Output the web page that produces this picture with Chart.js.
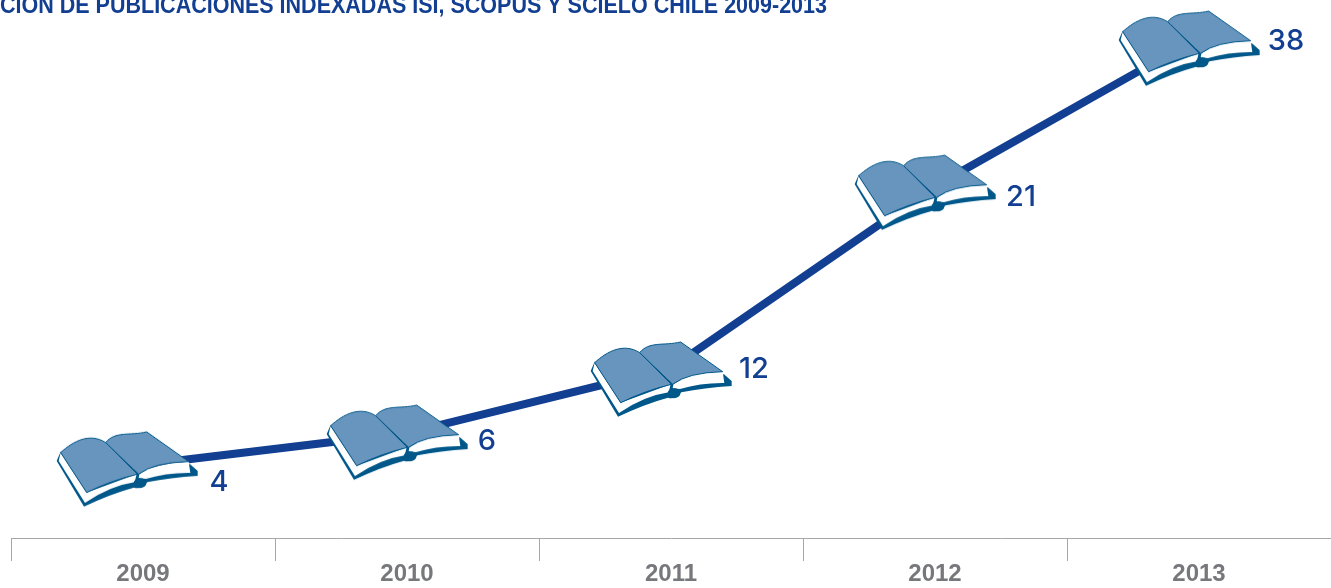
<!DOCTYPE html>
<html>
<head>
<meta charset="utf-8">
<title>Publicaciones indexadas</title>
<script src="https://cdn.jsdelivr.net/npm/chart.js@4/dist/chart.umd.js"></script>
<style>
  html, body { margin: 0; padding: 0; background: #fff; overflow: hidden; }
  canvas { display: block; }
</style>
</head>
<body>
<canvas id="lineChart" width="1331" height="588"></canvas>
<script>
const years = ['2009', '2010', '2011', '2012', '2013'];
const publications = [4, 6, 12, 21, 38];
const chartTitle = 'CIÓN DE PUBLICACIONES INDEXADAS ISI, SCOPUS Y SCIELO CHILE 2009-2013';

// the original axis is not to scale, so y is piecewise: value -> share of plot height
const yStopValues = [0, 4, 6, 12, 21, 38, 42];
const yStopShares = [0, 0.136, 0.195, 0.316, 0.654, 0.931, 1];

// label offset from its point
const labelDx = [76, 80, 83, 86, 87];
const labelDy = [17, 8, 1, 11, 4];
// book offset from its point
const bookDx = [-16, -10, -10, -10, -10];
const bookDy = [4, 9, 11, 6, 11];

class StopScale extends Chart.LinearScale {
  getPixelForValue(value) {
    let i = 1;
    while (i < yStopValues.length - 1 && value > yStopValues[i]) i++;
    const t = (value - yStopValues[i - 1]) / (yStopValues[i] - yStopValues[i - 1]);
    const share = yStopShares[i - 1] + t * (yStopShares[i] - yStopShares[i - 1]);
    return this.bottom - share * (this.bottom - this.top);
  }
}
StopScale.id = 'stops';
StopScale.defaults = {};
Chart.register(StopScale);

// open book used as the point marker
function makeBook(dx, dy) {
  const c = document.createElement('canvas');
  c.width = 200;
  c.height = 120;
  const g = c.getContext('2d');
  g.translate(100 + dx, 60 + dy);
  g.scale(1 / 3, 1 / 3);
  g.translate(-261, -144);

  // shadow under the book
  g.fillStyle = '#00578a';
  g.beginPath();
  g.moveTo(50, 120);
  g.lineTo(132, 257);
  g.quadraticCurveTo(215, 218, 282, 200);
  g.quadraticCurveTo(302, 208, 322, 184);
  g.quadraticCurveTo(390, 170, 473, 165);
  g.lineTo(473, 150);
  g.lineTo(450, 130);
  g.lineTo(300, 150);
  g.lineTo(62, 92);
  g.closePath();
  g.fill();

  // page edges
  g.fillStyle = '#ffffff';
  g.beginPath();
  g.moveTo(56, 120);
  g.lineTo(62, 95);
  g.lineTo(140, 215);
  g.lineTo(290, 160);
  g.lineTo(284, 184);
  g.quadraticCurveTo(210, 195, 135, 246);
  g.closePath();
  g.fill();
  g.beginPath();
  g.moveTo(298, 160);
  g.quadraticCurveTo(340, 128, 446, 122);
  g.lineTo(451, 156);
  g.quadraticCurveTo(380, 155, 318, 174);
  g.lineTo(296, 172);
  g.closePath();
  g.fill();

  // covers
  g.fillStyle = '#6795bd';
  g.strokeStyle = '#00578a';
  g.lineWidth = 3;
  g.beginPath();
  g.moveTo(62, 95);
  g.bezierCurveTo(100, 60, 150, 35, 197, 65);
  g.lineTo(292, 160);
  g.quadraticCurveTo(210, 180, 140, 215);
  g.closePath();
  g.fill();
  g.stroke();
  g.beginPath();
  g.moveTo(197, 65);
  g.bezierCurveTo(225, 30, 270, 45, 320, 33);
  g.lineTo(446, 122);
  g.quadraticCurveTo(340, 125, 296, 160);
  g.closePath();
  g.fill();
  g.stroke();

  // spine
  g.fillStyle = '#00578a';
  g.beginPath();
  g.ellipse(300, 187, 19, 15, 0, 0, Math.PI * 2);
  g.fill();
  return c;
}

const books = years.map((y, i) => makeBook(bookDx[i], bookDy[i]));

const textPlugin = {
  id: 'chartText',
  afterDatasetsDraw(chart) {
    const ctx = chart.ctx;
    const points = chart.getDatasetMeta(0).data;
    ctx.save();
    ctx.fillStyle = '#123f91';
    ctx.font = '500 29px Inter';
    ctx.textAlign = 'center';
    ctx.textBaseline = 'middle';
    publications.forEach((v, i) => {
      ctx.fillText(String(v), points[i].x + labelDx[i], points[i].y + labelDy[i]);
    });
    ctx.textAlign = 'left';
    ctx.textBaseline = 'alphabetic';
    ctx.font = 'bold 24px "Liberation Sans"';
    ctx.fillText(chartTitle, 0, 13, 827);
    ctx.restore();
  }
};

new Chart(document.getElementById('lineChart'), {
  type: 'line',
  plugins: [textPlugin],
  data: {
    labels: years,
    datasets: [{
      data: publications,
      borderColor: '#123f91',
      borderWidth: 8,
      tension: 0,
      pointStyle: books,
      clip: false
    }]
  },
  options: {
    responsive: false,
    animation: false,
    devicePixelRatio: 1,
    layout: { autoPadding: false, padding: { left: 11 } },
    plugins: { legend: { display: false }, tooltip: { enabled: false } },
    scales: {
      x: {
        offset: true,
        border: { color: '#a7a7a7', width: 1 },
        grid: { offset: true, drawOnChartArea: false, color: '#a7a7a7', tickLength: 23 },
        ticks: {
          padding: 0,
          color: '#77787b',
          maxRotation: 0,
          font: { family: '"Liberation Sans"', size: 24, weight: 'bold', lineHeight: 1.125 }
        }
      },
      y: { type: 'stops', display: false, min: 0, max: 42 }
    }
  }
});
</script>
</body>
</html>
